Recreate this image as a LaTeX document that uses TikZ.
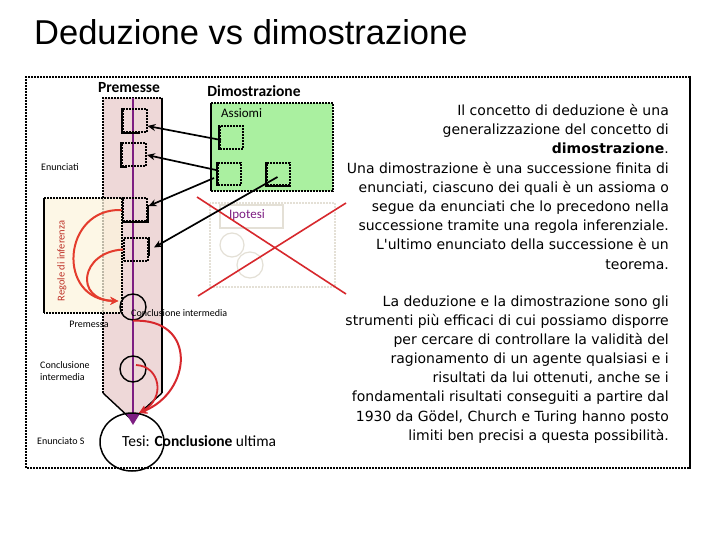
\documentclass[tikz,border=0pt]{standalone}
\usepackage{fontspec}
\setmainfont{Carlito}
\newfontfamily\titlefont{Liberation Sans}
\newfontfamily\rtfont{DejaVu Sans}
\usetikzlibrary{arrows.meta,shapes.geometric,calc}
\definecolor{pinkcol}{RGB}{238,216,216}
\definecolor{creamcol}{RGB}{253,245,222}
\definecolor{greencol}{RGB}{170,240,160}
\definecolor{purplecol}{RGB}{125,30,130}
\definecolor{xred}{RGB}{215,40,45}
\definecolor{arcred}{RGB}{228,60,45}
\definecolor{fadecol}{RGB}{228,224,214}
\definecolor{regcol}{RGB}{190,50,40}
\tikzset{
  dotln/.style={line width=2pt, dash pattern=on 2pt off 1pt},
  solidln/.style={line width=2pt},
  ebox/.style={draw, dotln, rectangle, minimum width=24pt, minimum height=23pt, inner sep=0pt},
  ecirc/.style={draw, line width=1.4pt, circle, minimum size=26pt, inner sep=0pt},
  ax/.style={line width=1.7pt, -{Stealth[length=8pt,width=7pt]}},
  redarc/.style={arcred, line width=2pt, -{Stealth[length=8pt,width=8pt]}},
  small/.style={font=\fontsize{10}{12}\selectfont, inner sep=0pt},
  lab/.style={font=\fontsize{14}{16}\selectfont, inner sep=0pt}
}
\begin{document}
\begin{tikzpicture}[x=1pt,y=-1pt]
\useasboundingbox (0,0) rectangle (720,540);
\fill[white] (0,0) rectangle (720,540);
% title
\node[anchor=west, inner sep=0pt, font=\titlefont\fontsize{34.5}{38}\selectfont] (title) at (34,32) {Deduzione vs dimostrazione};
% outer frame
\draw[dotln] (690,77) -- (26,77) -- (26,468) -- (690,468);
\draw[line width=2.8pt] (690,76) -- (690,469);
% pink column
\fill[pinkcol] (103,98) -- (162,98) -- (162,393) -- (132,420) -- (103,393) -- cycle;
\draw[dotln] (103,393) -- (103,98) -- (162,98);
\draw[solidln] (162,98) -- (162,393);
\draw[line width=1.4pt] (162,393) -- (132,420) -- (103,393);
% cream panel (regole di inferenza)
\fill[creamcol, fill opacity=0.75] (44,198) rectangle (122,313);
\draw[dotln] (44,198) -- (122,198) -- (122,313) -- (44,313);
\draw[solidln] (44,198) -- (44,313);
\node[inner sep=0pt, font=\fontsize{10.5}{12}\selectfont, rotate=90, text=regcol] (regole) at (62,261) {Regole di inferenza};
% green box
\fill[greencol] (211,103) rectangle (333,191);
\draw[dotln] (211,103) -- (333,103) -- (333,191) -- (211,191);
\draw[solidln] (211,103) -- (211,191);
\node[lab, font=\fontsize{13}{15}\selectfont, anchor=west] (assiomi) at (221,113) {Assiomi};
% faded ipotesi
\draw[fadecol, dotln] (210,203) rectangle (335,287);
\draw[fadecol, line width=1.2pt] (220,205) rectangle (283,228);
\draw[fadecol, line width=1.2pt] (232,245) circle (12);
\draw[fadecol, line width=1.2pt] (250,265) circle (13);
\node[lab, font=\fontsize{13}{15}\selectfont, text=purplecol] (ipotesi) at (247,215) {Ipotesi};
% red cross
\draw[xred, line width=1.6pt] (197,197) -- (346,294);
\draw[xred, line width=1.6pt] (198,296) -- (346,203);
% headers
\node[lab, font=\bfseries\fontsize{15.5}{17}\selectfont] (premesse) at (129,88) {Premesse};
\node[lab, font=\bfseries\fontsize{15.5}{17}\selectfont] (dimo) at (254,91) {Dimostrazione};
% purple line
\draw[purplecol, line width=1.5pt, -{Triangle[length=11pt,width=13pt]}] (133,98) -- (133,425);
% column boxes
\node[ebox] (b1) at (134.5,121) {};
\node[ebox] (b2) at (134,155) {};
\node[ebox] (b3) at (134.5,210) {};
\node[ebox] (b4) at (136,249.5) {};
\draw[solidln] (b1.north west) -- (b1.south west) -- ($(b1.south east)+(-8,0)$);
\draw[solidln] (b2.north west) -- (b2.south west) -- ($(b2.south west)+(6,0)$);
\draw[solidln] ($(b3.north east)+(0,8)$) -- (b3.south east) -- (b3.south west);
\draw[solidln] (b4.north east) -- ($(b4.south east)+(0,-6)$);
% axiom boxes
\node[ebox, minimum width=23pt, minimum height=23pt] (a1) at (231.5,138) {};
\node[ebox, minimum width=23pt, minimum height=22pt] (a2) at (229.5,174) {};
\node[ebox, minimum width=23pt, minimum height=22pt] (a3) at (278.5,174) {};
\draw[solidln] (a1.north west) -- (a1.south west);
\draw[solidln] (a2.north west) -- (a2.south west);
\draw[solidln] (a3.north west) -- (a3.south west) -- (a3.south east);
% axiom arrows
\draw[ax] ($(a1.west)+(2,2)$) -- ($(b1.east)+(0,5)$);
\draw[ax] ($(a2.west)+(-1,-4)$) -- ($(b2.east)+(0,0)$);
\draw[ax] ($(a2.west)+(-3,4)$) -- ($(b3.east)+(1,-4)$);
\draw[ax] ($(a3.center)+(-1,3)$) -- ($(b4.east)+(5,-2)$);
% circles
\node[ecirc] (c1) at (133,307) {};
\node[ecirc] (c2) at (133,369) {};
\node[draw, line width=1.5pt, ellipse, minimum width=64pt, minimum height=58pt, inner sep=0pt] (tesi) at (132,442) {};
\coordinate (tip) at (139,413);
% red arcs
\draw[redarc] (b3.west) .. controls (62,208) and (56,300) .. ($(c1.west)+(-1,-6)$);
\draw[redarc] (b4.west) .. controls (80,252) and (74,300) .. ($(c1.west)+(-1,-6)$);
\draw[redarc, xred] (c1.south) .. controls (198,318) and (192,392) .. (tip);
\draw[redarc, xred, line width=1.8pt] ($(c2.center)+(3,-4)$) .. controls (160,366) and (166,398) .. (tip);
% labels
\node[small, anchor=west] (enunciati) at (41,167) {Enunciati};
\node[small, anchor=west] (ci1) at (131,313) {Conclusione intermedia};
\node[small] (premessa) at (89,324) {Premessa};
\node[small, anchor=west, align=left, font=\fontsize{10}{12}\selectfont] (ci2) at (40,371) {Conclusione\\intermedia};
\node[small, anchor=west] (enS) at (37,441) {Enunciato S};
\node[lab, anchor=west, font=\fontsize{15.5}{17}\selectfont] (tesitxt) at (122,441) {Tesi: \textbf{Conclusione} ultima};
% right text
\node[anchor=north east, inner sep=0pt, align=right, font=\rtfont\fontsize{14}{19.2}\selectfont] (para) at (669,104) {%
Il concetto di deduzione è una\\
generalizzazione del concetto di\\
\textbf{dimostrazione}.\\
Una dimostrazione è una successione finita di\\
enunciati, ciascuno dei quali è un assioma o\\
segue da enunciati che lo precedono nella\\
successione tramite una regola inferenziale.\\
L'ultimo enunciato della successione è un\\
teorema.\\[17.8pt]
La deduzione e la dimostrazione sono gli\\
strumenti più efficaci di cui possiamo disporre\\
per cercare di controllare la validità del\\
ragionamento di un agente qualsiasi e i\\
risultati da lui ottenuti, anche se i\\
fondamentali risultati conseguiti a partire dal\\
1930 da Gödel, Church e Turing hanno posto\\
limiti ben precisi a questa possibilità.};
\end{tikzpicture}
\end{document}
